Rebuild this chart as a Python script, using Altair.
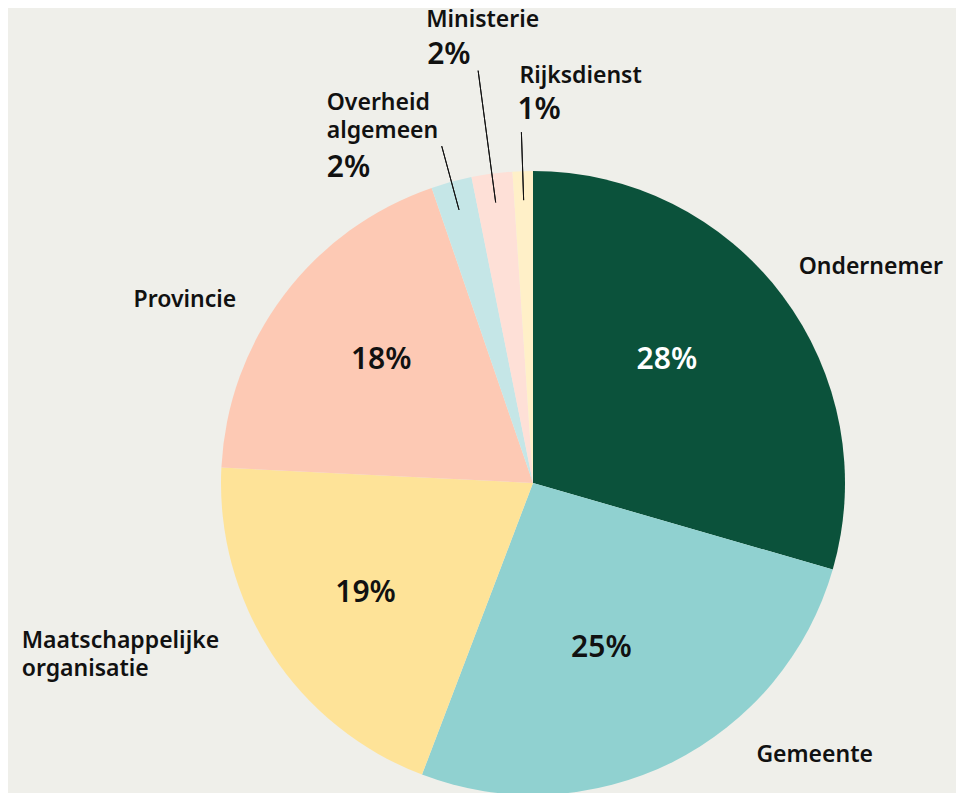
import altair as alt
import pandas as pd

# ---- data ----
categories = ["Ondernemer", "Gemeente", "Maatschappelijke organisatie", "Provincie",
              "Overheid algemeen", "Ministerie", "Rijksdienst"]
values = [28, 25, 19, 18, 2, 2, 1]
pct_labels = ["28%", "25%", "19%", "18%", "2%", "2%", "1%"]
name_labels = ["Ondernemer", "Gemeente", "Maatschappelijke\norganisatie", "Provincie",
               "Overheid\nalgemeen", "Ministerie", "Rijksdienst"]
colors = ["#0b523b", "#90d1d0", "#fee398", "#fdc9b4", "#c5e6e7", "#fee0d7", "#fff0c8"]

df = pd.DataFrame({
    "idx": list(range(len(categories))),
    "category": categories,
    "value": values,
    "pct": pct_labels,
    "name": name_labels,
})

BG = "#efefea"
INK = "#111111"
FONT = "Noto Sans"
CX, CY = 525, 475
R = 312
total = sum(values)
theta_scale = alt.Scale(domain=[0, total], nice=False)

base = (
    alt.Chart(df)
    .transform_window(cum="sum(value)", sort=[alt.SortField("idx", order="ascending")], frame=[None, 0])
    .transform_calculate(start="datum.cum - datum.value", mid="datum.cum - datum.value / 2")
)

pie = base.mark_arc(radius=R).encode(
    x=alt.value(CX), y=alt.value(CY),
    theta=alt.Theta("start:Q", stack=None, scale=theta_scale),
    theta2="cum:Q",
    color=alt.Color("category:N", scale=alt.Scale(domain=categories, range=colors), legend=None),
)

layers = [pie]

# leader lines for the small slices (radial strokes at the slice middle)
leaders = {"Overheid algemeen": 349, "Ministerie": 416, "Rijksdienst": 351}
for cat, r2 in leaders.items():
    layers.append(
        base.transform_filter(alt.datum.category == cat)
        .mark_arc(filled=False, stroke=INK, strokeWidth=1, radius=283, radius2=r2)
        .encode(
            x=alt.value(CX), y=alt.value(CY),
            theta=alt.Theta("mid:Q", stack=None, scale=theta_scale),
            theta2="mid:Q",
        )
    )

# label layout: (category, field, radius, dx, dy, size, color, align, baseline)
label_layout = [
    ("Ondernemer", "pct", 180, -10, -15, 30, "#ffffff", "center", "middle"),
    ("Gemeente", "pct", 180, -12, 4, 30, INK, "center", "middle"),
    ("Maatschappelijke organisatie", "pct", 200, 0, 1, 30, INK, "center", "middle"),
    ("Provincie", "pct", 195, 4, -6, 30, INK, "center", "middle"),
    ("Ondernemer", "name", 330, 2, -11, 23, INK, "left", "alphabetic"),
    ("Gemeente", "name", 330, 76, -16, 23, INK, "left", "alphabetic"),
    ("Maatschappelijke organisatie", "name", 330, -235, -15, 23, INK, "left", "alphabetic"),
    ("Provincie", "name", 330, -33, 22, 23, INK, "right", "alphabetic"),
    ("Overheid algemeen", "name", 349, -115, -36, 23, INK, "left", "alphabetic"),
    ("Overheid algemeen", "pct", 349, -115, 31, 30, INK, "left", "alphabetic"),
    ("Ministerie", "name", 416, -52, -44, 23, INK, "left", "alphabetic"),
    ("Ministerie", "pct", 416, -51, -7, 30, INK, "left", "alphabetic"),
    ("Rijksdienst", "name", 351, -2, -49, 23, INK, "left", "alphabetic"),
    ("Rijksdienst", "pct", 351, -4, -13, 30, INK, "left", "alphabetic"),
]

for cat, field, r, dx, dy, size, col, align, baseline in label_layout:
    layers.append(
        base.transform_filter(alt.datum.category == cat)
        .mark_text(radius=r, dx=dx, dy=dy, fontSize=size, font=FONT, fontWeight=600,
                   color=col, align=align, baseline=baseline, lineBreak="\n", lineHeight=28)
        .encode(
            x=alt.value(CX), y=alt.value(CY),
            theta=alt.Theta("mid:Q", stack=None, scale=theta_scale),
            text=alt.Text(f"{field}:N"),
        )
    )

chart = (
    alt.layer(*layers)
    .properties(width=948, height=785, padding=0, background=BG,
                autosize=alt.AutoSizeParams(type="fit", contains="padding"),
                usermeta={"embedOptions": {"defaultStyle": "body { background: #efefea; }"}})
    .configure_view(stroke=None)
)

chart.save("out.html", embed_options={"renderer": "svg", "actions": False})
